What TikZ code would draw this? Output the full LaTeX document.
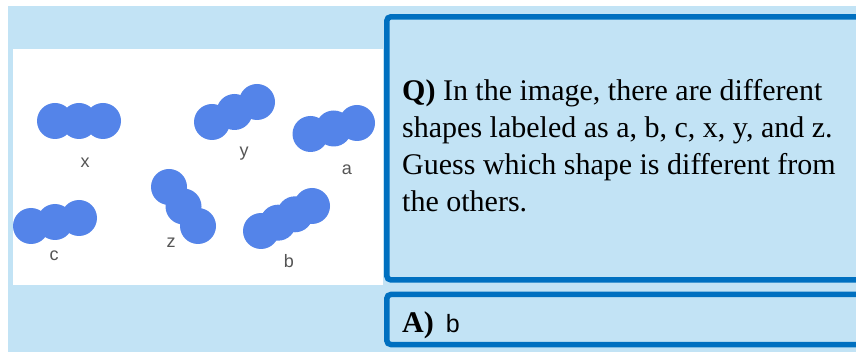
\documentclass[tikz,border=0pt]{standalone}
\usepackage{fontspec}
\setmainfont{Liberation Serif}
\newfontfamily\labelfont{Liberation Sans}
\definecolor{bgblue}{HTML}{C2E3F5}
\definecolor{boxblue}{HTML}{0070C0}
\definecolor{blobblue}{HTML}{5484E9}
\definecolor{labelgray}{HTML}{555555}
\begin{document}
\begin{tikzpicture}[x=1pt,y=-1pt,
  blob/.style={fill=blobblue},
  lbl/.style={font=\labelfont\fontsize{18}{18}\selectfont, text=labelgray, inner sep=0pt, anchor=base},
  qline/.style={font=\fontsize{30}{36}\selectfont, inner sep=0pt, anchor=base west},
  panel/.style={draw=boxblue, line width=5.5pt, rounded corners=4pt, fill=bgblue}]
\useasboundingbox (0,0) rectangle (856,352);
\fill[white] (0,0) rectangle (856,352);
\fill[bgblue] (8,6) rectangle (856,352);
\fill[white] (13,49) rectangle (383,285);
\draw[panel] (386.8,16.8) rectangle (870,279.9);
\draw[panel] (386.8,294.5) rectangle (870,344.5);
% shapes
\foreach \p in {(55,121),(79,121),(103,121)} \fill[blob] \p circle[radius=18pt];
\foreach \p in {(212,122),(234.5,112),(257,102)} \fill[blob] \p circle[radius=18pt];
\foreach \p in {(310.5,134),(333.7,128.5),(357,123)} \fill[blob] \p circle[radius=18pt];
\foreach \p in {(31,226),(55,222),(79,218)} \fill[blob] \p circle[radius=18pt];
\foreach \p in {(169,187),(183.5,206.5),(198,226)} \fill[blob] \p circle[radius=18pt];
\foreach \p in {(261,231),(278,222.7),(295,214.3),(312,206)} \fill[blob] \p circle[radius=18pt];
% labels
\node[lbl] (lx) at (85,168) {x};
\node[lbl] (ly) at (244,157) {y};
\node[lbl] (la) at (347,175) {a};
\node[lbl] (lz) at (171,248) {z};
\node[lbl] (lc) at (54,261) {c};
\node[lbl] (lb) at (289,268) {b};
% question
\node[qline] (q1) at (402,101) {\textbf{Q)} In the image, there are different};
\node[qline] (q2) at (402,138) {shapes labeled as a, b, c, x, y, and z.};
\node[qline] (q3) at (402,175) {Guess which shape is different from};
\node[qline] (q4) at (402,212) {the others.};
% answer
\node[qline] (ans) at (402,332) {\textbf{A)}\hspace{12pt}{\labelfont\fontsize{25}{30}\selectfont b}};
\end{tikzpicture}
\end{document}
